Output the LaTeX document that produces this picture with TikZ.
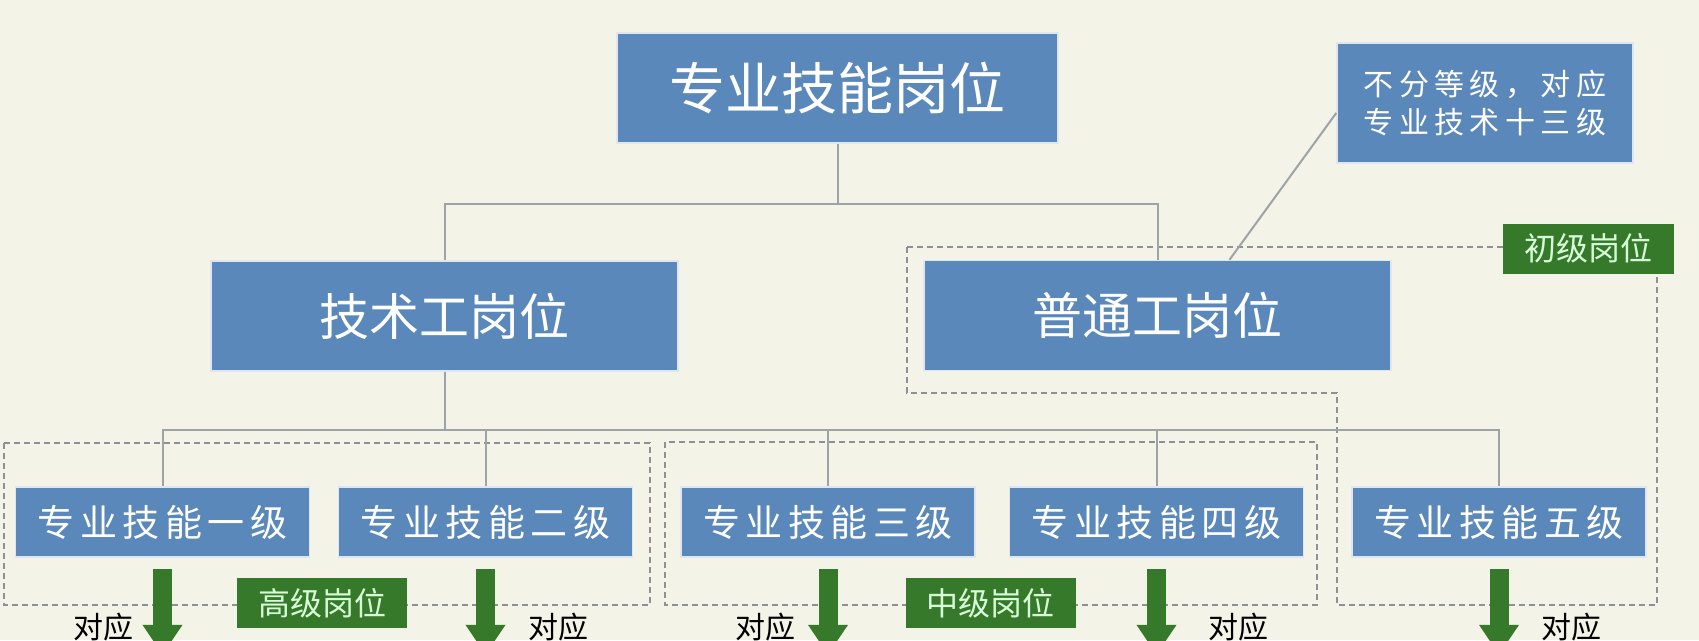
\documentclass[tikz,border=0pt]{standalone}
\usepackage{fontspec}
\setmainfont{Noto Sans CJK SC}
\usetikzlibrary{arrows.meta}
\definecolor{bg}{HTML}{F4F3E7}
\definecolor{boxblue}{HTML}{5A88BA}
\definecolor{tagreen}{HTML}{36792B}
\definecolor{lngray}{HTML}{9EA3A8}
\definecolor{dshgray}{HTML}{8D9095}

\begin{document}
\begin{tikzpicture}[x=1pt,y=-1pt,
  blk/.style={fill=boxblue,draw=white!80!boxblue,line width=1.5pt,text=white,inner sep=0pt},
  big/.style={blk,minimum width=467pt,minimum height=110pt,font=\fontsize{50}{56}\selectfont},
  lvl/.style={blk,minimum width=294pt,minimum height=70pt,font=\fontsize{37}{40}\selectfont\addfontfeatures{LetterSpace=15}},
  tag/.style={fill=tagreen,text=white!85!green,minimum width=170pt,minimum height=50pt,inner sep=0pt,font=\fontsize{32}{34}\selectfont},
  corr/.style={font=\fontsize{30}{32}\selectfont,text=black},
  conn/.style={draw=lngray,line width=2pt},
  zone/.style={draw=dshgray,line width=2pt,dash pattern=on 6pt off 4pt},
  garrow/.style={draw=tagreen,line width=19pt,-{Triangle[width=38pt,length=30pt]}}]
\fill[bg] (0,0) rectangle (1699,640);
\useasboundingbox (0,0) rectangle (1699,640);
\clip (0,0) rectangle (1699,640);

\draw[zone] (4,443) rectangle (650,605);
\draw[zone] (665,442) rectangle (1317,605);
\draw[zone] (907,247) -- (1657,247) -- (1657,605) -- (1337,605) -- (1337,393) -- (907,393) -- cycle;

\node[blk,minimum width=441pt,minimum height=110pt,font=\fontsize{56}{60}\selectfont] (top) at (837.5,88) {专业技能岗位};
\node[blk,minimum width=296pt,minimum height=120pt,align=center,font=\fontsize{30}{38}\selectfont\addfontfeatures{LetterSpace=18}] (note) at (1485,103) {不分等级，对应\\专业技术十三级};
\node[big] (tech) at (444.5,316) {技术工岗位};
\node[big] (gen) at (1157.5,315.5) {普通工岗位};
\node[lvl] (lv1) at (162.5,522) {专业技能一级};
\node[lvl] (lv2) at (485.5,522) {专业技能二级};
\node[lvl] (lv3) at (828,522) {专业技能三级};
\node[lvl] (lv4) at (1156.5,522) {专业技能四级};
\node[lvl] (lv5) at (1499,522) {专业技能五级};

\draw[conn] (top.south) -- ++(0,60) -| (tech.north);
\draw[conn] (top.south) -- ++(0,60) -| (gen.north);
\draw[conn] ([xshift=72pt]gen.north) -- ([yshift=-10pt]note.west);
\draw[conn] (tech.south) -- ++(0,58) -| (lv1.north);
\draw[conn] (tech.south) -- ++(0,58) -| (lv2.north);
\draw[conn] (tech.south) -- ++(0,58) -| (lv3.north);
\draw[conn] (tech.south) -- ++(0,58) -| (lv4.north);
\draw[conn] (tech.south) -- ++(0,58) -| (lv5.north);

\node[tag] (hi) at (322,603) {高级岗位};
\node[tag] (mid) at (990.5,603) {中级岗位};
\node[tag,minimum width=171pt] (low) at (1588.5,248.5) {初级岗位};

\draw[garrow] ([yshift=-11pt]lv1.south) -- ++(0,86);
\draw[garrow] ([yshift=-11pt]lv2.south) -- ++(0,86);
\draw[garrow] ([yshift=-11pt]lv3.south) -- ++(0,86);
\draw[garrow] ([yshift=-11pt]lv4.south) -- ++(0,86);
\draw[garrow] ([yshift=-11pt]lv5.south) -- ++(0,86);

\node[corr] (c1) at (103,627) {对应};
\node[corr] (c2) at (558,627) {对应};
\node[corr] (c3) at (765,627) {对应};
\node[corr] (c4) at (1238,627) {对应};
\node[corr] (c5) at (1571,627) {对应};
\end{tikzpicture}
\end{document}
